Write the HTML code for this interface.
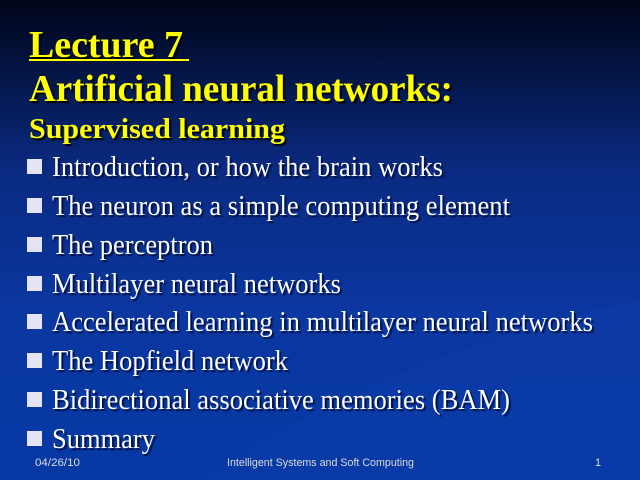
<!DOCTYPE html>
<html><head><meta charset="utf-8"><style>
html,body{margin:0;padding:0;}
body{width:640px;height:480px;overflow:hidden;background:linear-gradient(180deg,#000518 0%,#041545 15%,#0a2a80 35%,#0a37a0 65%,#0638a4 100%);position:relative;}
svg{position:absolute;left:0;top:0;}
.t{font-family:"Liberation Serif","Times New Roman",serif;font-weight:bold;fill:#ffff00;text-shadow:2px 2px 1px #000;}
.b{font-family:"Liberation Serif","Times New Roman",serif;fill:#fff;font-size:28px;text-shadow:2px 2px 1px #001040;}
.f{font-family:"Liberation Sans",sans-serif;fill:#ddd;font-size:11px;}
</style></head><body>
<svg width="640" height="480" viewBox="0 0 640 480">
<path d="M200 480 C350 380 500 330 640 300 L640 480 Z" fill="#2a5ad0" opacity="0.08"/>
<text class="t" x="29" y="57" font-size="38" textLength="154" lengthAdjust="spacingAndGlyphs">Lecture 7</text>
<line x1="29" y1="60" x2="189" y2="60" stroke="#ffff00" stroke-width="2"/>
<text class="t" x="29" y="101" font-size="38" textLength="424" lengthAdjust="spacingAndGlyphs">Artificial neural networks:</text>
<text class="t" x="29" y="138" font-size="29" textLength="256" lengthAdjust="spacingAndGlyphs">Supervised learning</text>
<g fill="#e4e4f4">
<rect x="27" y="159" width="15" height="15"/>
<rect x="27" y="198" width="15" height="15"/>
<rect x="27" y="237" width="15" height="15"/>
<rect x="27" y="276" width="15" height="15"/>
<rect x="27" y="314" width="15" height="15"/>
<rect x="27" y="353" width="15" height="15"/>
<rect x="27" y="392" width="15" height="15"/>
<rect x="27" y="431" width="15" height="15"/>
</g>
<text class="b" x="52" y="176" textLength="391" lengthAdjust="spacingAndGlyphs">Introduction, or how the brain works</text>
<text class="b" x="52" y="215" textLength="458" lengthAdjust="spacingAndGlyphs">The neuron as a simple computing element</text>
<text class="b" x="52" y="254" textLength="161" lengthAdjust="spacingAndGlyphs">The perceptron</text>
<text class="b" x="52" y="293" textLength="289" lengthAdjust="spacingAndGlyphs">Multilayer neural networks</text>
<text class="b" x="52" y="331" textLength="541" lengthAdjust="spacingAndGlyphs">Accelerated learning in multilayer neural networks</text>
<text class="b" x="52" y="370" textLength="236" lengthAdjust="spacingAndGlyphs">The Hopfield network</text>
<text class="b" x="52" y="409" textLength="458" lengthAdjust="spacingAndGlyphs">Bidirectional associative memories (BAM)</text>
<text class="b" x="52" y="448" textLength="103" lengthAdjust="spacingAndGlyphs">Summary</text>
<text class="f" x="35" y="466" textLength="45" lengthAdjust="spacingAndGlyphs">04/26/10</text>
<text class="f" x="227" y="466" textLength="187" lengthAdjust="spacingAndGlyphs">Intelligent Systems and Soft Computing</text>
<text class="f" x="595" y="466">1</text>
</svg>
</body></html>
